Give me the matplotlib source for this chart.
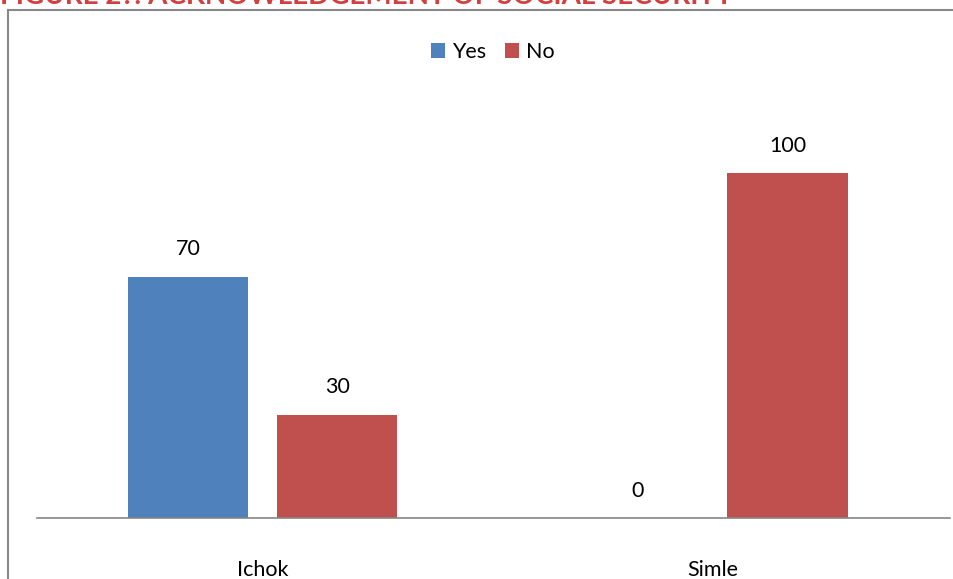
import matplotlib.pyplot as plt
from matplotlib.lines import Line2D
import numpy as np

categories = ['Ichok', 'Simle']
yes_values = [70, 0]
no_values = [30, 100]
series_names = ['Yes', 'No']
title = 'FIGURE 2?: ACKNOWLEDGEMENT OF SOCIAL SECURITY'

W, H = 954, 579
fig = plt.figure(figsize=(W / 100, H / 100), dpi=100)
plt.rcParams['font.family'] = ['Lato', 'DejaVu Sans']

# axes placed so the baseline sits at y=518 px and groups at 262/713 px
ax = fig.add_axes([37 / W, 61 / H, 913 / W, 414 / H])
x = np.arange(len(categories))
width = 0.267
off = 0.166
blue, red = '#4F81BD', '#C0504D'
b1 = ax.bar(x - off, yes_values, width, color=blue, label=series_names[0])
b2 = ax.bar(x + off, no_values, width, color=red, label=series_names[1])

for bars, vals in ((b1, yes_values), (b2, no_values)):
  for b, v in zip(bars, vals):
    ax.text(b.get_x() + b.get_width() / 2, v + 5, str(v),
            ha='center', va='bottom', fontsize=15.5, color='black')

ax.set_xlim(-0.501, 1.527)
ax.set_ylim(0, 120)
ax.set_yticks([])
ax.set_xticks(x)
ax.set_xticklabels(categories, fontsize=15.5)
ax.tick_params(axis='x', length=0, pad=30)
for s in ['top', 'right', 'left']:
  ax.spines[s].set_visible(False)
ax.spines['bottom'].set_color('#868686')
ax.spines['bottom'].set_linewidth(1.2)

fig.legend(handles=[b1, b2], loc='center', bbox_to_anchor=(493 / W, 1 - 52 / H),
           ncol=2, frameon=False, fontsize=15.5, handlelength=0.65,
           handleheight=0.65, handletextpad=0.3, columnspacing=0.9)

# outer chart frame (left and top edges visible)
fig.add_artist(Line2D([8 / W, 8 / W], [0, 1 - 10 / H], color='#888888', lw=1.5))
fig.add_artist(Line2D([8 / W, 1], [1 - 10 / H, 1 - 10 / H], color='#888888', lw=1.5))

fig.text(0, 1 - 4 / H, title, color='#D23F3F', fontsize=20, fontweight='bold',
         ha='left', va='baseline')

fig.savefig('out.png', dpi=100)
